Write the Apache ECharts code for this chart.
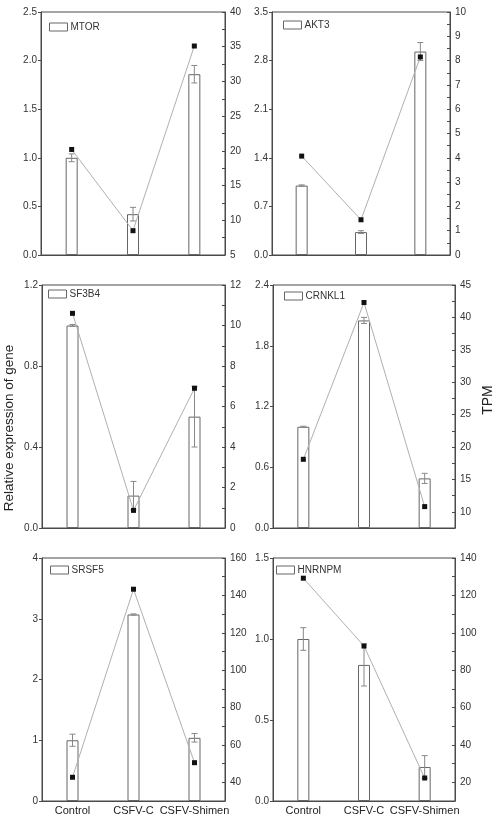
<!DOCTYPE html>
<html>
<head>
<meta charset="utf-8">
<script src="https://cdn.jsdelivr.net/npm/echarts@6/dist/echarts.min.js"></script>
<style>
  html, body { margin: 0; padding: 0; background: #fff; }
  #chart { width: 496px; height: 829px; }
</style>
</head>
<body>
<div id="chart"></div>
<script>
// categories and gene names
const categories = ['Control', 'CSFV-C', 'CSFV-Shimen'];
const geneNames = ['MTOR', 'AKT3', 'SF3B4', 'CRNKL1', 'SRSF5', 'HNRNPM'];

// relative expression (bars), error, TPM (line)
const mtorRel = [1.0, 0.42, 1.86];
const mtorErr = [0.04, 0.07, 0.09];
const mtorTpm = [20.2, 8.5, 35.1];

const akt3Rel = [1.0, 0.33, 2.93];
const akt3Err = [0.01, 0.02, 0.13];
const akt3Tpm = [4.07, 1.45, 8.15];

const sf3b4Rel = [1.0, 0.16, 0.55];
const sf3b4Err = [0.005, 0.07, 0.15];
const sf3b4Tpm = [10.6, 0.87, 6.9];

const crnkl1Rel = [1.0, 2.05, 0.49];
const crnkl1Err = [0.005, 0.03, 0.05];
const crnkl1Tpm = [18.1, 42.3, 10.8];

const srsf5Rel = [1.0, 3.07, 1.04];
const srsf5Err = [0.1, 0.01, 0.07];
const srsf5Tpm = [42.7, 143.3, 50.5];

const hnrnpmRel = [1.0, 0.84, 0.21];
const hnrnpmErr = [0.07, 0.13, 0.07];
const hnrnpmTpm = [129.2, 92.9, 22.3];

// axis ticks
const leftMax = [2.5, 3.5, 1.2, 2.4, 4, 1.5];
const leftStep = [0.5, 0.7, 0.4, 0.6, 1, 0.5];
const leftDecimals = [1, 1, 1, 1, 0, 1];
const tpmMin = [5, 0, 0, 7.5, 30, 10];
const tpmMax = [40, 10, 12, 45, 160, 140];
const tpmTickStep = [2.5, 0.5, 1, 2.5, 10, 10];
const tpmLabelStep = [5, 1, 2, 5, 20, 20];

const relData = [mtorRel, akt3Rel, sf3b4Rel, crnkl1Rel, srsf5Rel, hnrnpmRel];
const errData = [mtorErr, akt3Err, sf3b4Err, crnkl1Err, srsf5Err, hnrnpmErr];
const tpmData = [mtorTpm, akt3Tpm, sf3b4Tpm, crnkl1Tpm, srsf5Tpm, hnrnpmTpm];

const grids = [
    { left: 41, top: 12, width: 184, height: 243 },
    { left: 272, top: 12, width: 178, height: 243 },
    { left: 42, top: 285, width: 183, height: 243 },
    { left: 273, top: 285, width: 182, height: 243 },
    { left: 42, top: 558, width: 183, height: 243 },
    { left: 273, top: 558, width: 182, height: 243 }
];
// legend offset inside each panel
const legendPos = [[8, 10], [11, 8], [6, 4], [11, 6], [8, 7], [3, 7]];

const FONT = 'Liberation Sans, Arial, sans-serif';
const AXIS_COLOR = '#4a4a4a';

function errorItem(params, api) {
    const x = api.value(0);
    const v = api.value(1);
    const e = api.value(2);
    const hi = api.coord([x, v + e]);
    const lo = api.coord([x, v - e]);
    const cap = 3;
    const style = { stroke: '#888', lineWidth: 1 };
    return {
        type: 'group',
        children: [
            { type: 'line', shape: { x1: hi[0], y1: hi[1], x2: lo[0], y2: lo[1] }, style: style },
            { type: 'line', shape: { x1: hi[0] - cap, y1: hi[1], x2: hi[0] + cap, y2: hi[1] }, style: style },
            { type: 'line', shape: { x1: lo[0] - cap, y1: lo[1], x2: lo[0] + cap, y2: lo[1] }, style: style }
        ]
    };
}

const grid = [], xAxis = [], yAxis = [], series = [], legend = [];

geneNames.forEach((gene, i) => {
    grid.push(Object.assign({ show: true, borderColor: AXIS_COLOR, borderWidth: 1, backgroundColor: 'transparent' }, grids[i]));
    const bottomRow = i >= 4;
    xAxis.push({
        type: 'category',
        gridIndex: i,
        data: categories,
        boundaryGap: true,
        axisLine: { lineStyle: { color: AXIS_COLOR } },
        axisTick: { inside: true, alignWithLabel: true, length: 3, lineStyle: { color: AXIS_COLOR } },
        axisLabel: { show: bottomRow, fontFamily: FONT, fontSize: 11, color: '#222', margin: 4, interval: 0, hideOverlap: false }
    });
    const dec = leftDecimals[i];
    yAxis.push({
        type: 'value',
        gridIndex: i,
        min: 0,
        max: leftMax[i],
        interval: leftStep[i],
        axisLine: { show: true, lineStyle: { color: AXIS_COLOR } },
        axisTick: { show: true, length: 3, lineStyle: { color: AXIS_COLOR } },
        splitLine: { show: false },
        axisLabel: { fontFamily: FONT, fontSize: 10, color: '#333', margin: 4, formatter: v => v.toFixed(dec) }
    });
    const ls = tpmLabelStep[i];
    yAxis.push({
        type: 'value',
        gridIndex: i,
        position: 'right',
        min: tpmMin[i],
        max: tpmMax[i],
        interval: tpmTickStep[i],
        axisLine: { show: true, lineStyle: { color: AXIS_COLOR } },
        axisTick: { show: true, inside: true, length: 3, lineStyle: { color: AXIS_COLOR } },
        splitLine: { show: false },
        axisLabel: {
            fontFamily: FONT, fontSize: 10, color: '#333', margin: 5, padding: [7, 0, 0, 0],
            formatter: v => {
                const r = v / ls;
                return Math.abs(r - Math.round(r)) < 1e-6 ? String(Math.round(v * 100) / 100) : '';
            }
        }
    });
    series.push({
        name: gene,
        type: 'bar',
        xAxisIndex: i,
        yAxisIndex: i * 2,
        barWidth: 12,
        itemStyle: { color: '#ffffff', borderColor: '#666', borderWidth: 1 },
        data: relData[i],
        z: 2
    });
    series.push({
        type: 'custom',
        xAxisIndex: i,
        yAxisIndex: i * 2,
        renderItem: errorItem,
        data: relData[i].map((v, k) => [k, v, errData[i][k]]),
        z: 3
    });
    series.push({
        type: 'line',
        xAxisIndex: i,
        yAxisIndex: i * 2 + 1,
        symbol: 'rect',
        symbolSize: 5,
        lineStyle: { color: '#b0b0b0', width: 1 },
        itemStyle: { color: '#111' },
        data: tpmData[i],
        z: 4
    });
    legend.push({
        data: [gene],
        left: grids[i].left + legendPos[i][0],
        top: grids[i].top + legendPos[i][1],
        icon: 'rect',
        itemWidth: 18,
        itemHeight: 8,
        itemGap: 4,
        padding: 0,
        selectedMode: false,
        itemStyle: { color: '#fff', borderColor: '#666', borderWidth: 1 },
        textStyle: { fontFamily: FONT, fontSize: 10, color: '#333', padding: [0, 0, 0, -2] }
    });
});

const chart = echarts.init(document.getElementById('chart'));
chart.setOption({
    animation: false,
    backgroundColor: '#fff',
    grid: grid,
    xAxis: xAxis,
    yAxis: yAxis,
    legend: legend,
    series: series,
    graphic: [
        {
            type: 'text', x: 9, y: 428, rotation: Math.PI / 2,
            style: { text: 'Relative expression of gene', font: '13.5px ' + FONT, fill: '#222', align: 'center', verticalAlign: 'middle' }
        },
        {
            type: 'text', x: 488, y: 400, rotation: Math.PI / 2,
            style: { text: 'TPM', font: '14px ' + FONT, fill: '#222', align: 'center', verticalAlign: 'middle' }
        }
    ]
});
</script>
</body>
</html>
